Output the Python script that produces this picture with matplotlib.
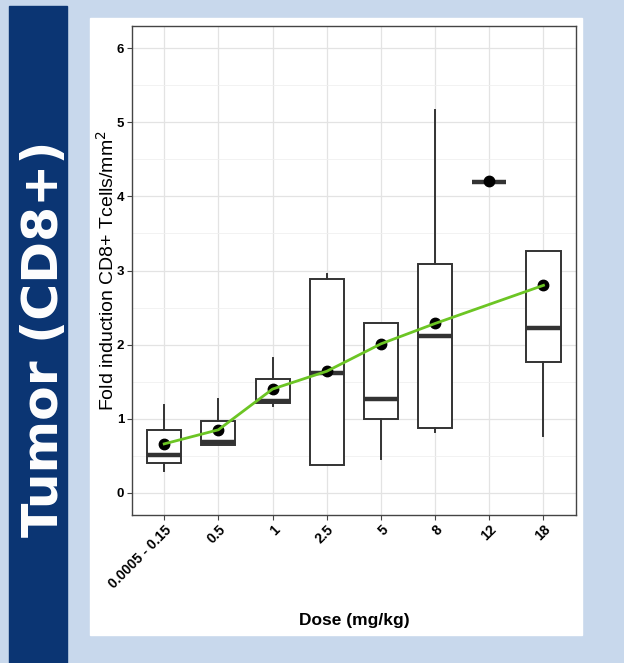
import numpy as np
import matplotlib
matplotlib.use('Agg')
import matplotlib.pyplot as plt
from matplotlib.patches import Rectangle

# data
doses = ['0.0005 - 0.15', '0.5', '1', '2.5', '5', '8', '12', '18']
whislo = [0.29, 0.64, 1.17, 0.37, 0.46, 0.82, 4.20, 0.76]
q1 = [0.40, 0.64, 1.21, 0.37, 0.99, 0.875, 4.20, 1.76]
med = [0.515, 0.68, 1.24, 1.62, 1.27, 2.11, 4.20, 2.22]
q3 = [0.85, 0.975, 1.54, 2.89, 2.285, 3.09, 4.20, 3.26]
whishi = [1.18, 1.27, 1.82, 2.95, 2.285, 5.16, 4.20, 3.26]
means = [0.66, 0.85, 1.40, 1.64, 2.01, 2.285, 4.21, 2.80]
# the green trend line skips the single-animal 12 mg/kg group
trend_idx = [0, 1, 2, 3, 4, 5, 7]

plt.rcParams['font.family'] = ['Liberation Sans', 'DejaVu Sans']

W, H = 624, 663
fig = plt.figure(figsize=(W / 100, H / 100), dpi=100, facecolor='#c8d8ec')

# navy side band and white panel
fig.patches.append(Rectangle((8.5 / W, 0), (67 - 8.5) / W, 1 - 6 / H,
                             transform=fig.transFigure, color='#0b3573', zorder=-2))
fig.patches.append(Rectangle((89.5 / W, 1 - 635 / H), (582 - 89.5) / W, (635 - 17.5) / H,
                             transform=fig.transFigure, color='white', zorder=-2))
fig.text(44 / W, 1 - 339 / H, 'Tumor (CD8+)', rotation=90, color='white',
         fontsize=36.3, fontweight='bold', ha='center', va='center',
         family=['DejaVu Sans'])

ax = fig.add_axes([131.7 / W, 1 - 515 / H, (576 - 131.7) / W, (515 - 26) / H])
ax.set_facecolor('white')

pos = np.arange(1, len(doses) + 1)
stats = []
for i in range(len(doses)):
    stats.append(dict(whislo=whislo[i], q1=q1[i], med=med[i], q3=q3[i],
                      whishi=whishi[i], fliers=[]))
edge = '#333333'
ax.bxp(stats, positions=pos, widths=0.63, showcaps=False, patch_artist=True,
       boxprops=dict(facecolor='white', edgecolor=edge, linewidth=1.4),
       whiskerprops=dict(color=edge, linewidth=1.4),
       medianprops=dict(color=edge, linewidth=3.2, solid_capstyle='butt'),
       zorder=3)

ax.plot(pos, means, 'o', color='black', ms=7.5, zorder=4)
ax.plot(pos[trend_idx], np.array(means)[trend_idx], color='#6cc524', lw=2, zorder=5)

ax.set_xlim(0.4, len(doses) + 0.6)
ax.set_ylim(-0.3, 6.3)
ax.set_yticks(np.arange(0, 7, 1))
ax.set_yticks(np.arange(0.5, 6.5, 1), minor=True)
ax.set_xticks(pos)
ax.set_xticklabels(doses, rotation=45, ha='right', rotation_mode='anchor')

ax.grid(True, which='major', color='#e3e3e3', lw=0.9, zorder=0)
ax.grid(True, which='minor', axis='y', color='#f0f0f0', lw=0.6, zorder=0)
ax.set_axisbelow(True)

for s in ax.spines.values():
    s.set_color('#444444')
    s.set_linewidth(1.0)
ax.tick_params(which='major', length=3.5, width=0.8, color='#444444',
               labelcolor='black', pad=2)
ax.tick_params(axis='y', labelsize=9.5)
ax.tick_params(axis='x', labelsize=10)
ax.tick_params(which='minor', length=0)
for lab in ax.get_xticklabels() + ax.get_yticklabels():
    lab.set_fontweight('bold')

ax.set_xlabel('Dose (mg/kg)', fontsize=12.5, fontweight='bold', labelpad=16)
ax.set_ylabel('Fold induction CD8+ Tcells/mm$^2$', fontsize=14, labelpad=-1)

fig.savefig('out.png', dpi=100, facecolor=fig.get_facecolor())
